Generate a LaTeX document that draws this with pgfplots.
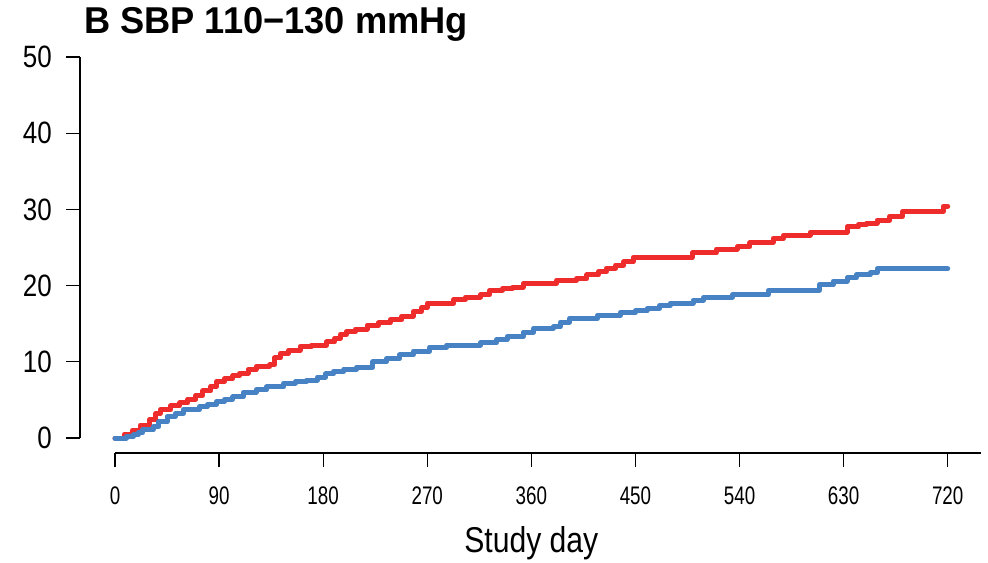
\documentclass[border=0pt]{standalone}
\usepackage{fontspec}
\setmainfont{Liberation Sans}[FakeStretch=0.84]
\newfontfamily\titlefont{Liberation Sans}[FakeStretch=0.97]
\newfontfamily\xtickfont{Liberation Sans}[FakeStretch=0.74]
\usepackage{pgfplots}
\pgfplotsset{compat=1.18}
\definecolor{cred}{HTML}{EE2C2C}
\definecolor{cblue}{HTML}{4682C4}
\pgfplotstableread{
x y
0 0
8 0.5
15 1.0
22 1.7
30 2.4
35 3.2
39 3.7
48 4.2
56 4.6
63 5.1
70 5.6
76 6.2
83 6.8
88 7.4
95 7.8
102 8.2
108 8.5
115 9.0
122 9.4
134 9.6
138 10.5
143 11.1
150 11.5
160 12.0
170 12.2
183 12.6
190 13.1
195 13.6
200 13.95
208 14.3
218 14.8
228 15.1
238 15.5
248 16.0
258 16.6
265 17.1
270 17.7
293 18.2
303 18.5
316 18.8
324 19.4
335 19.6
344 19.8
353 20.3
382 20.7
399 20.9
408 21.4
418 21.8
425 22.3
433 22.7
440 23.1
448 23.7
499 24.3
520 24.8
538 25.1
549 25.6
563 25.7
569 26.2
578 26.6
601 27.0
633 27.7
643 28.0
650 28.2
659 28.6
670 29.1
681 29.7
716 30.4
720 30.4
}\redtab
\pgfplotstableread{
x y
0 0
10 0.2
16 0.4
20 0.7
24 1.05
33 1.5
38 2.1
45 2.8
52 3.2
59 3.7
73 4.1
80 4.4
88 4.8
95 5.1
102 5.4
111 6.0
122 6.3
131 6.7
146 7.2
156 7.4
166 7.6
175 8.0
182 8.4
189 8.7
198 9.0
209 9.3
223 10.0
235 10.4
246 10.9
258 11.4
272 11.9
287 12.2
316 12.5
330 12.9
339 13.3
353 13.9
362 14.4
379 14.6
385 15.2
393 15.7
417 16.1
437 16.5
450 16.7
460 17.0
471 17.4
480 17.7
500 18.1
509 18.4
520 18.5
534 18.8
565 19.4
609 20.1
621 20.6
633 21.0
641 21.4
653 21.7
659 22.2
720 22.2
}\bluetab
\begin{document}
\begin{tikzpicture}
\path[use as bounding box] (-115bp,-125bp) rectangle (873bp,438bp);
\begin{axis}[
  anchor=origin, at={(0,0)},
  x={(1.15653bp,0)}, y={(0,7.62bp)},
  xmin=0, xmax=749, ymin=0, ymax=50,
  axis x line*=bottom, axis y line*=left,
  separate axis lines,
  axis x line shift=15bp,
  axis y line shift=35bp,
  every outer x axis line/.append style={-, line width=1.3bp},
  every outer y axis line/.append style={-, line width=1.3bp},
  tick align=outside,
  major tick length=14bp,
  every tick/.style={black, line width=1.3bp},
  xtick={0,90,...,720},
  ytick={0,10,...,50},
  /pgf/number format/assume math mode=true,
  yticklabel style={font=\fontsize{31}{34}\selectfont, inner sep=0pt, xshift=-14bp},
  xticklabel style={font=\xtickfont\fontsize{25.5}{28}\selectfont, inner sep=0pt, yshift=-20bp},
  xlabel={Study day},
  xlabel style={font=\fontsize{36}{40}\selectfont, at={(rel axis cs:0.4806,0)}, anchor=base, inner sep=0pt, yshift=-114bp},
  title={\titlefont\bfseries B SBP 110\textminus130 mmHg},
  title style={font=\fontsize{37.5}{44}\selectfont, at={(rel axis cs:-0.0358,1.0465)}, anchor=base west, inner sep=0pt},
  clip=false,
]
\addplot[const plot, cred, line width=5bp, line cap=round, line join=round] table {\redtab};
\addplot[const plot, cblue, line width=5bp, line cap=round, line join=round] table {\bluetab};
\end{axis}
\end{tikzpicture}
\end{document}
